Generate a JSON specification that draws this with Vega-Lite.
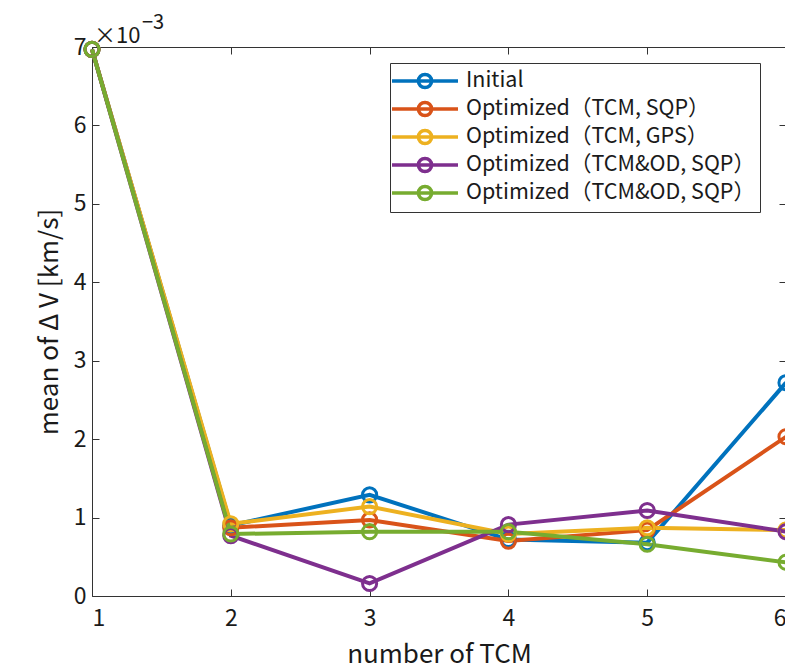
{
  "$schema": "https://vega.github.io/schema/vega-lite/v6.json",
  "autosize": "none",
  "padding": {"left": 92, "top": 47, "right": 0, "bottom": 72},
  "width": 694,
  "height": 549,
  "background": "white",
  "config": {
    "view": {"stroke": null},
    "font": "Noto Sans CJK JP",
    "axis": {
      "grid": false,
      "domainColor": "#333333",
      "tickColor": "#333333",
      "labelColor": "#1a1a1a",
      "titleColor": "#1a1a1a",
      "labelFont": "Noto Sans CJK JP",
      "titleFont": "Noto Sans CJK JP",
      "labelFontSize": 23,
      "titleFontSize": 26,
      "titleFontWeight": "normal",
      "tickSize": -7,
      "domainWidth": 1,
      "tickWidth": 1
    }
  },
  "datasets": {
    "dv": [
      {"tcm": 1, "series": "Initial", "meanDV": 0.00697},
      {"tcm": 2, "series": "Initial", "meanDV": 0.00090},
      {"tcm": 3, "series": "Initial", "meanDV": 0.00129},
      {"tcm": 4, "series": "Initial", "meanDV": 0.00072},
      {"tcm": 5, "series": "Initial", "meanDV": 0.00068},
      {"tcm": 6, "series": "Initial", "meanDV": 0.00272},
      {"tcm": 1, "series": "Optimized（TCM, SQP）", "meanDV": 0.00697},
      {"tcm": 2, "series": "Optimized（TCM, SQP）", "meanDV": 0.00087},
      {"tcm": 3, "series": "Optimized（TCM, SQP）", "meanDV": 0.00097},
      {"tcm": 4, "series": "Optimized（TCM, SQP）", "meanDV": 0.00070},
      {"tcm": 5, "series": "Optimized（TCM, SQP）", "meanDV": 0.00084},
      {"tcm": 6, "series": "Optimized（TCM, SQP）", "meanDV": 0.00203},
      {"tcm": 1, "series": "Optimized（TCM, GPS）", "meanDV": 0.00697},
      {"tcm": 2, "series": "Optimized（TCM, GPS）", "meanDV": 0.00092},
      {"tcm": 3, "series": "Optimized（TCM, GPS）", "meanDV": 0.00114},
      {"tcm": 4, "series": "Optimized（TCM, GPS）", "meanDV": 0.00079},
      {"tcm": 5, "series": "Optimized（TCM, GPS）", "meanDV": 0.00087},
      {"tcm": 6, "series": "Optimized（TCM, GPS）", "meanDV": 0.00084},
      {"tcm": 1, "series": "Optimized（TCM&OD, SQP）", "meanDV": 0.00697},
      {"tcm": 2, "series": "Optimized（TCM&OD, SQP）", "meanDV": 0.00077},
      {"tcm": 3, "series": "Optimized（TCM&OD, SQP）", "meanDV": 0.00016},
      {"tcm": 4, "series": "Optimized（TCM&OD, SQP）", "meanDV": 0.00091},
      {"tcm": 5, "series": "Optimized（TCM&OD, SQP）", "meanDV": 0.00109},
      {"tcm": 6, "series": "Optimized（TCM&OD, SQP）", "meanDV": 0.00082},
      {"tcm": 1, "series": "Optimized（TCM&OD, SQP） #2", "meanDV": 0.00697},
      {"tcm": 2, "series": "Optimized（TCM&OD, SQP） #2", "meanDV": 0.00079},
      {"tcm": 3, "series": "Optimized（TCM&OD, SQP） #2", "meanDV": 0.00082},
      {"tcm": 4, "series": "Optimized（TCM&OD, SQP） #2", "meanDV": 0.00082},
      {"tcm": 5, "series": "Optimized（TCM&OD, SQP） #2", "meanDV": 0.00066},
      {"tcm": 6, "series": "Optimized（TCM&OD, SQP） #2", "meanDV": 0.00043}
    ]
  },
  "layer": [
    {
      "data": {"name": "dv"},
      "mark": {"type": "line", "strokeWidth": 4, "point": {"filled": false, "size": 200, "strokeWidth": 3, "fill": "white", "fillOpacity": 0}},
      "encoding": {
        "x": {
          "field": "tcm", "type": "quantitative",
          "scale": {"domain": [1, 6], "nice": false, "zero": false},
          "axis": {"title": "number of TCM", "values": [1, 2, 3, 4, 5, 6], "format": "d", "labelPadding": 18, "titlePadding": 11}
        },
        "y": {
          "field": "meanDV", "type": "quantitative",
          "scale": {"domain": [0, 0.007], "nice": false},
          "axis": {"title": "mean of Δ V [km/s]", "values": [0, 0.001, 0.002, 0.003, 0.004, 0.005, 0.006, 0.007], "labelExpr": "round(datum.value*1000)", "labelPadding": 13, "titlePadding": 11}
        },
        "color": {
          "field": "series", "type": "nominal",
          "scale": {
            "domain": ["Initial", "Optimized（TCM, SQP）", "Optimized（TCM, GPS）", "Optimized（TCM&OD, SQP）", "Optimized（TCM&OD, SQP） #2"],
            "range": ["#0072BD", "#D95319", "#EDB120", "#7E2F8E", "#77AC30"]
          },
          "legend": {
            "title": null,
            "orient": "none",
            "legendX": 298,
            "legendY": 16,
            "labelExpr": "replace(datum.label, ' #2', '')",
            "labelFont": "Noto Sans CJK JP",
            "labelFontSize": 21.5,
            "labelLimit": 400,
            "labelColor": "#1a1a1a",
            "symbolType": "M-3,0L-0.6,0M0.6,0L3,0M-0.6,0A0.6,0.6 0 1,1 0.6,0A0.6,0.6 0 1,1 -0.6,0M-0.6,0L0.6,0",
            "symbolSize": 484,
            "symbolStrokeWidth": 3.5,
            "symbolFillColor": "transparent",
            "symbolOffset": 17,
            "labelOffset": 28,
            "rowPadding": 0,
            "padding": 5,
            "strokeColor": "#333333",
            "fillColor": "white"
          }
        },
        "order": {"field": "tcm", "type": "quantitative"}
      }
    },
    {
      "data": {"name": "dv"},
      "mark": {"type": "point", "opacity": 0},
      "encoding": {
        "x": {"field": "tcm", "type": "quantitative", "axis": {"orient": "top", "title": null, "labels": false, "values": [1, 2, 3, 4, 5, 6]}},
        "y": {"field": "meanDV", "type": "quantitative", "axis": {"orient": "right", "title": null, "labels": false, "values": [0, 0.001, 0.002, 0.003, 0.004, 0.005, 0.006, 0.007]}}
      }
    },
    {
      "data": {"values": [{}]},
      "mark": {"type": "text", "text": "×10", "align": "left", "baseline": "alphabetic", "dx": 2, "dy": -4, "fontSize": 22, "font": "Noto Sans CJK JP", "color": "#1a1a1a"},
      "encoding": {"x": {"datum": 1, "type": "quantitative", "axis": null}, "y": {"datum": 0.007, "type": "quantitative", "axis": null}}
    },
    {
      "data": {"values": [{}]},
      "mark": {"type": "text", "text": "−3", "align": "left", "baseline": "alphabetic", "dx": 50, "dy": -18, "fontSize": 20, "font": "Noto Sans CJK JP", "color": "#1a1a1a"},
      "encoding": {"x": {"datum": 1, "type": "quantitative", "axis": null}, "y": {"datum": 0.007, "type": "quantitative", "axis": null}}
    }
  ],
  "resolve": {"axis": {"x": "independent", "y": "independent"}}
}
